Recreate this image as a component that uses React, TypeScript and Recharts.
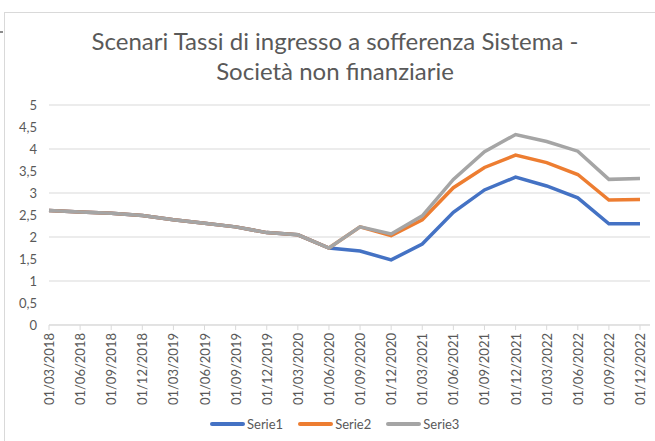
import { LineChart, Line, XAxis, YAxis, CartesianGrid } from "recharts"

const categories = [
  "01/03/2018", "01/06/2018", "01/09/2018", "01/12/2018",
  "01/03/2019", "01/06/2019", "01/09/2019", "01/12/2019",
  "01/03/2020", "01/06/2020", "01/09/2020", "01/12/2020",
  "01/03/2021", "01/06/2021", "01/09/2021", "01/12/2021",
  "01/03/2022", "01/06/2022", "01/09/2022", "01/12/2022",
]

const serie1 = [2.6, 2.57, 2.54, 2.49, 2.39, 2.31, 2.23, 2.1, 2.05, 1.75, 1.68, 1.48, 1.84, 2.56, 3.07, 3.36, 3.16, 2.89, 2.3, 2.3]
const serie2 = [2.6, 2.57, 2.54, 2.49, 2.39, 2.31, 2.23, 2.1, 2.05, 1.75, 2.23, 2.03, 2.39, 3.12, 3.58, 3.86, 3.69, 3.42, 2.84, 2.85]
const serie3 = [2.6, 2.57, 2.54, 2.49, 2.39, 2.31, 2.23, 2.1, 2.05, 1.75, 2.23, 2.07, 2.48, 3.31, 3.94, 4.33, 4.17, 3.95, 3.31, 3.33]

const yTicks = [0, 0.5, 1, 1.5, 2, 2.5, 3, 3.5, 4, 4.5, 5]

const series = [
  { key: "serie1", name: "Serie1", color: "#4472C4" },
  { key: "serie2", name: "Serie2", color: "#ED7D31" },
  { key: "serie3", name: "Serie3", color: "#A5A5A5" },
]

const data = categories.map((date, i) => ({
  date,
  serie1: serie1[i],
  serie2: serie2[i],
  serie3: serie3[i],
}))

const FONT = "Lato, 'Open Sans', sans-serif"
const TEXT = "#595959"

function DateTick({ x, y, payload }: any) {
  return (
    <text
      x={x}
      y={y}
      transform={`rotate(-90 ${x} ${y})`}
      textAnchor="end"
      dominantBaseline="central"
      fontSize={13}
      fontFamily={FONT}
      fill={TEXT}
    >
      {payload.value}
    </text>
  )
}

export default function App() {
  return (
    <div style={{ position: "absolute", left: 0, top: 0, width: 655, height: 441, background: "#fff", overflow: "hidden" }}>
      <div style={{ position: "absolute", left: 4, top: 12, width: 700, height: 500, border: "1px solid #D9D9D9" }} />
      <div style={{ position: "absolute", left: 0, top: 31, width: 3, height: 2, background: "#8c8c8c" }} />
      <div
        style={{
          position: "absolute",
          left: 35,
          width: 600,
          top: 26,
          textAlign: "center",
          fontFamily: FONT,
          fontSize: 24,
          lineHeight: "30px",
          color: TEXT,
        }}
      >
        Scenari Tassi di ingresso a sofferenza Sistema -
        <br />
        Società non finanziarie
      </div>
      <div style={{ position: "absolute", left: 0, top: 0 }}>
        <LineChart width={655} height={441} data={data} margin={{ top: 105, right: 5, bottom: 36, left: 8 }}>
          <CartesianGrid vertical={false} stroke="#D9D9D9" />
          <XAxis
            dataKey="date"
            interval={0}
            padding={{ left: 0, right: 10 }}
            stroke="#D9D9D9"
            tickSize={5}
            tickMargin={3}
            height={80}
            tick={<DateTick />}
          />
          <YAxis
            domain={[0, 5]}
            ticks={yTicks}
            width={41}
            axisLine={false}
            tickLine={false}
            tickMargin={6}
            tickFormatter={(v) => String(v).replace(".", ",")}
            tick={{ fontSize: 13, fontFamily: FONT, fill: TEXT }}
          />
          {series.map((s) => (
            <Line
              key={s.key}
              type="linear"
              dataKey={s.key}
              name={s.name}
              stroke={s.color}
              strokeWidth={3.5}
              dot={false}
              isAnimationActive={false}
            />
          ))}
        </LineChart>
      </div>
      <div
        style={{
          position: "absolute",
          top: 416,
          left: 210,
          display: "flex",
          alignItems: "center",
          fontFamily: FONT,
          fontSize: 13,
          color: TEXT,
        }}
      >
        {series.map((s) => (
          <div key={s.key} style={{ display: "flex", alignItems: "center", marginRight: 15 }}>
            <div style={{ width: 35, height: 4, borderRadius: 2, background: s.color, marginRight: 2 }} />
            <span>{s.name}</span>
          </div>
        ))}
      </div>
    </div>
  )
}
